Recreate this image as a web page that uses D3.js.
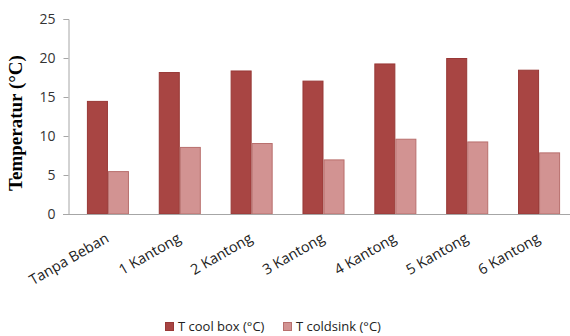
<!DOCTYPE html>
<html>
<head>
<meta charset="utf-8">
<script src="https://cdn.jsdelivr.net/npm/d3@7"></script>
<style>
  html, body { margin: 0; padding: 0; background: #fff; }
  svg { display: block; }
</style>
</head>
<body>
<svg id="chart" width="570" height="336"></svg>
<script>
// Kategori pengujian dan dua seri suhu
const categories = ["Tanpa Beban", "1 Kantong", "2 Kantong", "3 Kantong", "4 Kantong", "5 Kantong", "6 Kantong"];
const coolBox = [14.5, 18.2, 18.4, 17.1, 19.3, 20.0, 18.5];
const coldSink = [5.5, 8.6, 9.1, 7.0, 9.65, 9.3, 7.9];
const seriesNames = ["T cool box (°C)", "T coldsink (°C)"];
const seriesColors = ["#A84543", "#D29392"];
const seriesStroke = ["#983836", "#B86F6D"];
const yTicks = [0, 5, 10, 15, 20, 25];

const svg = d3.select("#chart");
const axisX = 68, plotTop = 19, plotBottom = 214;

const y = d3.scaleLinear().domain([0, 25]).range([plotBottom, plotTop]);
const x = d3.scaleBand().domain(categories).range([72, 575]).paddingInner(0.415).paddingOuter(0.2075);
const xs = d3.scaleBand().domain([0, 1]).range([0, x.bandwidth()]);

const rows = categories.map((c, i) => ({ cat: c, vals: [coolBox[i], coldSink[i]] }));

// Bars
const groups = svg.append("g").selectAll("g").data(rows).join("g")
  .attr("transform", d => `translate(${x(d.cat)},0)`);
groups.selectAll("rect").data(d => d.vals.map((v, k) => ({ v, k }))).join("rect")
  .attr("x", d => xs(d.k) + 0.5)
  .attr("y", d => y(d.v) + 0.5)
  .attr("width", xs.bandwidth() - 1)
  .attr("height", d => plotBottom - y(d.v) - 0.5)
  .attr("fill", d => seriesColors[d.k])
  .attr("stroke", d => seriesStroke[d.k])
  .attr("stroke-width", 1);

// Y axis
const yAxis = d3.axisLeft(y).tickValues(yTicks).tickSize(5).tickPadding(8);
const gy = svg.append("g").attr("transform", `translate(${axisX + 0.5},0)`).call(yAxis);
gy.select(".domain").attr("stroke", "#A6A6A6");
gy.selectAll(".tick line").attr("stroke", "#A6A6A6");
gy.selectAll(".tick text")
  .attr("font-family", "'Open Sans', sans-serif")
  .attr("font-size", 14)
  .attr("fill", "#333");

// X baseline
svg.append("line")
  .attr("x1", axisX - 5).attr("x2", 570)
  .attr("y1", plotBottom + 0.5).attr("y2", plotBottom + 0.5)
  .attr("stroke", "#A6A6A6");

// X labels, slanted
svg.append("g").selectAll("text").data(categories).join("text")
  .attr("transform", d => `translate(${x(d) + x.bandwidth() / 2 + 2},${plotBottom + 27}) rotate(-30)`)
  .attr("text-anchor", "end")
  .attr("font-family", "'Open Sans', sans-serif")
  .attr("font-size", 14.5)
  .attr("fill", "#222")
  .text(d => d);

// Y title
svg.append("text")
  .attr("transform", `translate(22,123) rotate(-90)`)
  .attr("text-anchor", "middle")
  .attr("font-family", "'Liberation Serif', 'Times New Roman', serif")
  .attr("font-weight", "bold")
  .attr("font-size", 19)
  .attr("fill", "#000")
  .text("Temperatur (°C)");

// Legend
const legendItems = [{ x: 165 }, { x: 283 }];
const lg = svg.append("g").selectAll("g").data(seriesNames).join("g")
  .attr("transform", (d, i) => `translate(${legendItems[i].x},322)`);
lg.append("rect")
  .attr("x", 0.5).attr("y", 0.5).attr("width", 8).attr("height", 8)
  .attr("fill", (d, i) => seriesColors[i])
  .attr("stroke", (d, i) => seriesStroke[i]);
lg.append("text")
  .attr("x", 13).attr("y", 9)
  .attr("font-family", "'Open Sans', sans-serif")
  .attr("font-size", 13)
  .attr("fill", "#222")
  .text(d => d);
</script>
</body>
</html>
